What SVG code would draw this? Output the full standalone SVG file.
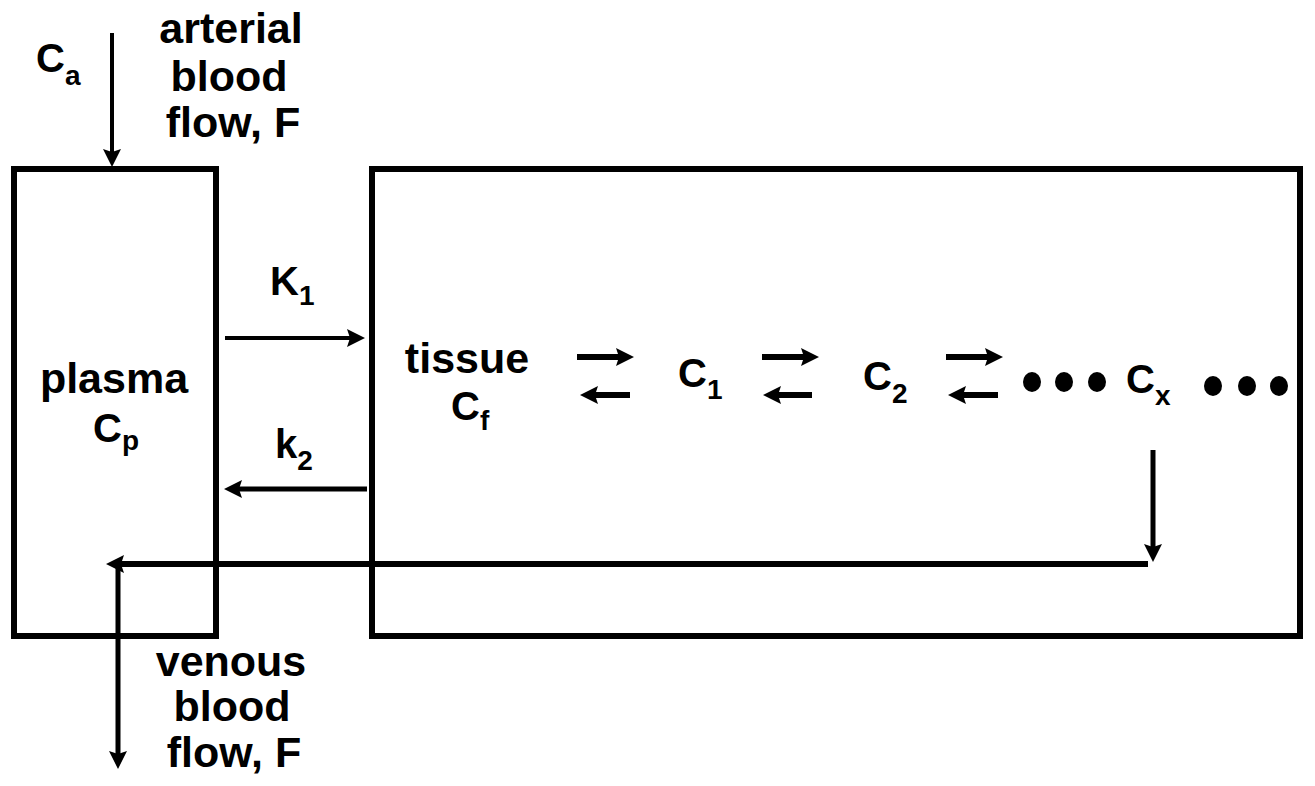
<svg xmlns="http://www.w3.org/2000/svg" width="1315" height="786" viewBox="0 0 1315 786">
<style>
.box{fill:none;stroke:#000;stroke-width:6}
.ln{fill:none;stroke:#000;stroke-linecap:butt}
.t{font-family:"Liberation Sans",Arial,sans-serif;font-weight:bold;fill:#000}
.big{font-size:43px}
.c{font-size:40px}
.s{font-size:28px}
.m{text-anchor:middle}
</style>
<defs>
<marker id="ah" markerUnits="userSpaceOnUse" markerWidth="20" markerHeight="18" refX="8" refY="9" orient="auto" viewBox="0 0 20 18">
<path d="M0,0 L18,9 L0,18 L3,9 Z" fill="#000"/>
</marker>
</defs>
<rect width="1315" height="786" fill="#fff"/>
<g id="plasma">
<rect class="box" x="14" y="169" width="202" height="467"/>
<text class="t big m" x="114" y="393">plasma</text>
<text class="t c" x="93" y="442">C<tspan class="s" dy="8">p</tspan></text>
</g>
<g id="tissue">
<rect class="box" x="372" y="169" width="928" height="467"/>
<text class="t big m" x="467" y="373">tissue</text>
<text class="t c" x="451" y="420">C<tspan class="s" dy="10">f</tspan></text>
</g>
<g id="c1"><text class="t c" x="678" y="387">C<tspan class="s" dy="12">1</tspan></text></g>
<g id="c2"><text class="t c" x="863" y="390">C<tspan class="s" dy="13">2</tspan></text></g>
<g id="dots1">
<ellipse cx="1032" cy="382" rx="9" ry="10"/>
<ellipse cx="1064" cy="382" rx="9" ry="10"/>
<ellipse cx="1097" cy="382" rx="9" ry="10"/>
</g>
<g id="cx"><text class="t c" x="1126" y="393">C<tspan class="s" dy="12">x</tspan></text></g>
<g id="dots2">
<ellipse cx="1213" cy="386" rx="9" ry="10"/>
<ellipse cx="1247" cy="386" rx="9" ry="10"/>
<ellipse cx="1279" cy="386" rx="9" ry="10"/>
</g>
<g id="arterial">
<text class="t c" x="36" y="72">C<tspan class="s" dy="13">a</tspan></text>
<text class="t big m" x="231" y="43">arterial</text>
<text class="t big m" x="229" y="91">blood</text>
<text class="t big m" x="233" y="137">flow, F</text>
</g>
<g id="venous">
<text class="t big m" x="231" y="676">venous</text>
<text class="t big m" x="232" y="721">blood</text>
<text class="t big m" x="234" y="767">flow, F</text>
</g>
<g id="rates">
<text class="t c" x="270" y="295">K<tspan class="s" dy="10">1</tspan></text>
<text class="t c" x="275" y="458">k<tspan class="s" dy="12">2</tspan></text>
</g>
<g id="connectors">
<line class="ln" x1="112" y1="33" x2="112" y2="157" stroke-width="4" marker-end="url(#ah)"/>
<line class="ln" x1="225" y1="338" x2="355" y2="338" stroke-width="4" marker-end="url(#ah)"/>
<line class="ln" x1="367" y1="489" x2="234" y2="489" stroke-width="5" marker-end="url(#ah)"/>
<line class="ln" x1="577" y1="357" x2="624" y2="357" stroke-width="6" marker-end="url(#ah)"/>
<line class="ln" x1="630" y1="395" x2="590" y2="395" stroke-width="6" marker-end="url(#ah)"/>
<line class="ln" x1="762" y1="357" x2="809" y2="357" stroke-width="6" marker-end="url(#ah)"/>
<line class="ln" x1="812" y1="395" x2="773" y2="395" stroke-width="6" marker-end="url(#ah)"/>
<line class="ln" x1="946" y1="357" x2="993" y2="357" stroke-width="6" marker-end="url(#ah)"/>
<line class="ln" x1="998" y1="395" x2="958" y2="395" stroke-width="6" marker-end="url(#ah)"/>
<line class="ln" x1="1153" y1="450" x2="1153" y2="552" stroke-width="5" marker-end="url(#ah)"/>
<line class="ln" x1="1148" y1="564" x2="116" y2="564" stroke-width="6" marker-end="url(#ah)"/>
<line class="ln" x1="118" y1="562" x2="118" y2="759" stroke-width="5" marker-end="url(#ah)"/>
</g>
</svg>
